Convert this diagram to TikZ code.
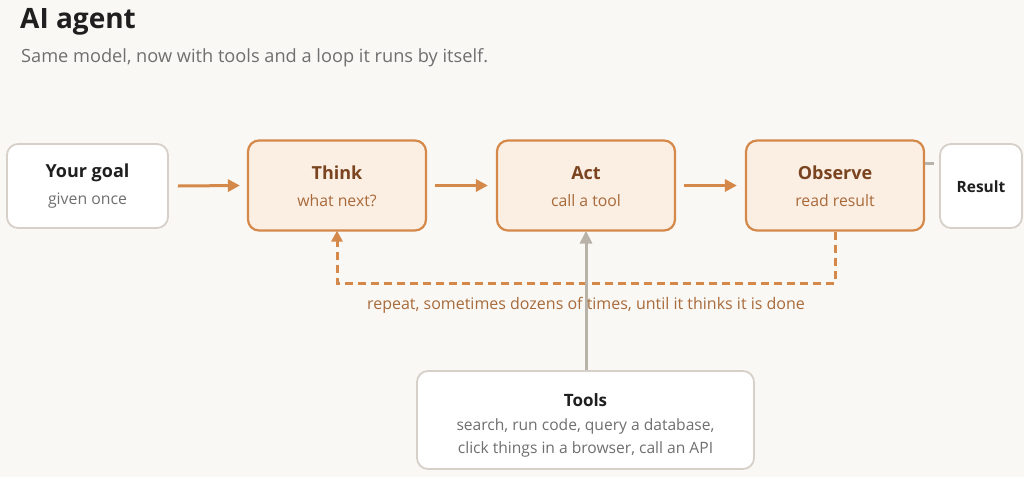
\documentclass[tikz,border=0pt]{standalone}
\usepackage{fontspec}
\setmainfont{Open Sans}
\usetikzlibrary{arrows.meta}
\definecolor{bg}{HTML}{FAF8F5}
\definecolor{obord}{HTML}{D4894A}
\definecolor{ofill}{HTML}{FBEEE3}
\definecolor{otitle}{HTML}{7A4420}
\definecolor{osub}{HTML}{A86A3A}
\definecolor{gbord}{HTML}{D6D0C8}
\definecolor{gtext}{HTML}{6F6F6F}
\definecolor{dark}{HTML}{1F1F1F}
\definecolor{garrow}{HTML}{B8B2A8}
\tikzset{
  x=1pt, y=-1pt,
  whitebox/.style={draw=gbord, line width=1.8pt, fill=white, rounded corners=11pt, inner sep=0pt},
  stagebox/.style={draw=obord, line width=2.2pt, fill=ofill, rounded corners=11pt, inner sep=0pt},
  flow/.style={draw=obord, line width=3pt, -{Triangle[length=12pt,width=12pt]}},
  loopline/.style={draw=obord, line width=3pt, dash pattern=on 8pt off 5pt, -{Triangle[length=11pt,width=11pt]}},
  grayline/.style={draw=garrow, line width=3pt},
  grayarrow/.style={draw=garrow, line width=3pt, -{Triangle[length=13pt,width=12pt]}},
  hd/.style={font=\fontsize{18}{21}\selectfont\bfseries},
  sub/.style={font=\fontsize{15.8}{18}\selectfont},
}
\begin{document}
\begin{tikzpicture}
\fill[bg] (0,0) rectangle (1024,477);
\useasboundingbox (0,0) rectangle (1024,477);

\node[anchor=base west, text=dark, font=\fontsize{28}{33}\selectfont\bfseries, inner sep=0pt] (title) at (20,28) {AI agent};
\node[anchor=base west, text=gtext, font=\fontsize{18.2}{22}\selectfont, inner sep=0pt] (subtitle) at (21,62) {Same model, now with tools and a loop it runs by itself.};

% boxes
\node[whitebox, minimum width=161pt, minimum height=84pt] (goal) at (87.5,186) {};
\node[stagebox, minimum width=178pt, minimum height=90pt] (think) at (337,185.5) {};
\node[stagebox, minimum width=178pt, minimum height=90pt] (act) at (586,185.5) {};
\node[stagebox, minimum width=178pt, minimum height=90pt] (obs) at (835,185.5) {};
\node[whitebox, minimum width=82pt, minimum height=84pt] (res) at (981,186) {};
\node[whitebox, minimum width=337pt, minimum height=98pt] (tools) at (585.5,420) {};

% texts
\node[hd, text=dark] (goalt) at (87.5,173) {Your goal};
\node[sub, text=gtext] (goals) at (87.5,201) {given once};
\node[hd, text=otitle] (thinkt) at (337,173) {Think};
\node[sub, text=osub] (thinks) at (337,201) {what next?};
\node[hd, text=otitle] (actt) at (586,173) {Act};
\node[sub, text=osub] (acts) at (586,201) {call a tool};
\node[hd, text=otitle] (obst) at (835,173) {Observe};
\node[sub, text=osub] (obss) at (835,201) {read result};
\node[font=\fontsize{15.5}{18}\selectfont\bfseries, text=dark] (rest) at (981,187) {Result};
\node[font=\fontsize{17}{20}\selectfont\bfseries, text=dark] (toolst) at (585.5,400) {Tools};
\node[text=gtext, align=center, font=\fontsize{15.6}{23.5}\selectfont] (toolss) at (585.5,438) {search, run code, query a database,\\click things in a browser, call an API};

% connectors
\draw[flow] ([xshift=9pt]goal.east) -- ([xshift=-7pt]think.west);
\draw[flow] ([xshift=8pt]think.east) -- ([xshift=-8pt]act.west);
\draw[flow] ([xshift=8pt]act.east) -- ([xshift=-8pt]obs.west);
\draw[grayline] (obs.east |- 0,163) -- ([xshift=-5pt]res.west |- 0,163);
\coordinate (lr) at (835,283);
\coordinate (ll) at (337,283);
\draw[loopline] (obs.south) -- (lr) -- (ll) -- ([yshift=1pt]think.south);
\draw[grayarrow] (tools.north -| act.south) -- ([yshift=1pt]act.south);
\node[text=osub, font=\fontsize{16}{19}\selectfont, inner sep=0pt] (looplbl) at (586,305) {repeat, sometimes dozens of times, until it thinks it is done};
\end{tikzpicture}
\end{document}
